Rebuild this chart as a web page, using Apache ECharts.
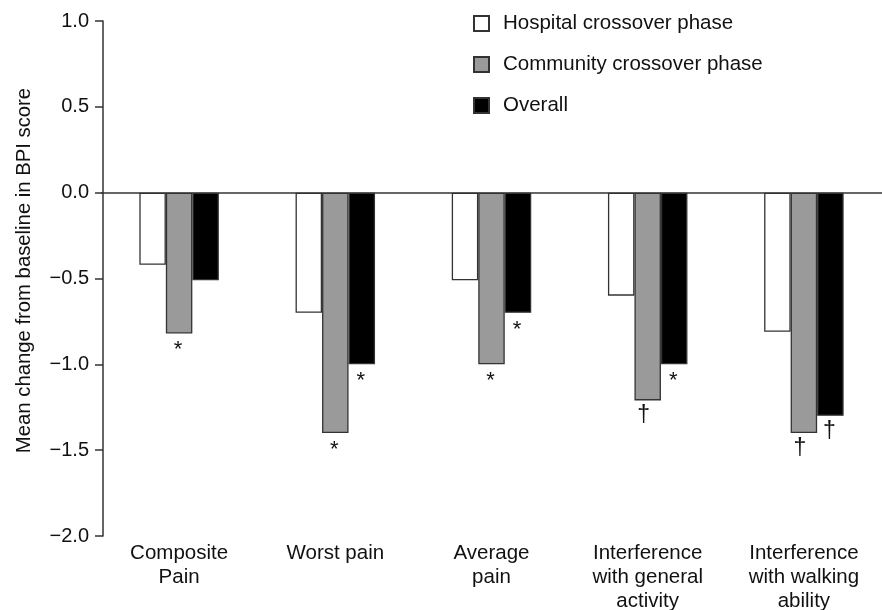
<!DOCTYPE html>
<html>
<head>
<meta charset="utf-8">
<script src="https://cdn.jsdelivr.net/npm/echarts@6/dist/echarts.min.js"></script>
<style>
  html, body { margin: 0; padding: 0; background: #fff; }
  #chart { width: 882px; height: 610px; }
</style>
</head>
<body>
<div id="chart"></div>
<script>
// ---- data ----
const categories = [
  'Composite\nPain',
  'Worst pain',
  'Average\npain',
  'Interference\nwith general\nactivity',
  'Interference\nwith walking\nability'
];
const seriesNames = ['Hospital crossover phase', 'Community crossover phase', 'Overall'];
const hospitalValues  = [-0.42, -0.70, -0.51, -0.60, -0.81];
const communityValues = [-0.82, -1.40, -1.00, -1.21, -1.40];
const overallValues   = [-0.51, -1.00, -0.70, -1.00, -1.30];
const hospitalMarks   = ['', '', '', '', ''];
const communityMarks  = ['*', '*', '*', '\u2020', '\u2020'];
const overallMarks    = ['', '*', '*', '*', '\u2020'];
const yMin = -2.0, yMax = 1.0, yStep = 0.5;

// ---- styles ----
const FONT = '"Liberation Sans", Arial, Helvetica, sans-serif';
const INK = '#111';
const AXIS = '#333';
const fills = ['#ffffff', '#9a9a9a', '#000000'];

function buildData(values, marks, dagOff, starOff) {
  return values.map((v, i) => {
    const m = marks[i];
    const isDag = m === '\u2020';
    return {
      value: v,
      label: {
        show: m !== '',
        formatter: m,
        fontSize: isDag ? 23 : 22,
        distance: isDag ? 4 : 6,
        offset: isDag ? dagOff : starOff
      }
    };
  });
}

function barSeries(name, values, marks, color, dagOff, starOff) {
  return {
    name: name,
    type: 'bar',
    barWidth: 26.5,
    barGap: '0%',
    data: buildData(values, marks, dagOff, starOff),
    itemStyle: { color: color, borderColor: AXIS, borderWidth: 1.3 },
    label: {
      position: 'outside',
      distance: 6,
      color: INK,
      fontFamily: FONT,
      fontSize: 20
    },
    emphasis: { disabled: true },
    animation: false
  };
}

const series = [
  barSeries(seriesNames[0], hospitalValues, hospitalMarks, fills[0], [-3, 0], [-1, 0]),
  barSeries(seriesNames[1], communityValues, communityMarks, fills[1], [-4, 0], [-1, 0]),
  barSeries(seriesNames[2], overallValues, overallMarks, fills[2], [-1, 0], [-1, 0])
];
series[0].markLine = {
  silent: true,
  symbol: 'none',
  label: { show: false },
  lineStyle: { color: AXIS, width: 1.5, type: 'solid' },
  data: [{ yAxis: 0 }],
  animation: false
};

const chart = echarts.init(document.getElementById('chart'), null, { renderer: 'canvas' });
chart.setOption({
  backgroundColor: '#ffffff',
  animation: false,
  textStyle: { fontFamily: FONT, color: INK },
  grid: { left: 101, right: 0, top: 21, bottom: 74, containLabel: false, outerBoundsMode: 'none' },
  legend: {
    orient: 'vertical',
    left: 468,
    top: 8,
    itemWidth: 15,
    itemHeight: 15,
    itemGap: 20,
    icon: 'rect',
    selectedMode: false,
    data: seriesNames,
    textStyle: { fontFamily: FONT, fontSize: 20.5, color: INK, lineHeight: 21, padding: [0, 0, 0, 9] }
  },
  xAxis: {
    type: 'category',
    data: categories,
    position: 'bottom',
    axisLine: { show: false, onZero: false },
    axisTick: { show: false },
    axisLabel: {
      interval: 0,
      margin: 5,
      fontFamily: FONT,
      fontSize: 20.5,
      lineHeight: 24,
      color: INK,
      align: 'center'
    },
    splitLine: { show: false }
  },
  yAxis: {
    type: 'value',
    min: yMin,
    max: yMax,
    interval: yStep,
    offset: -2,
    name: 'Mean change from baseline in BPI score',
    nameLocation: 'middle',
    nameGap: 69,
    nameTextStyle: { fontFamily: FONT, fontSize: 20.3, color: INK, padding: [0, 0, 0, 16] },
    axisLine: { show: true, lineStyle: { color: AXIS, width: 1.5 } },
    axisTick: { show: true, length: 8, lineStyle: { color: AXIS, width: 1.5 } },
    axisLabel: {
      margin: 14,
      fontFamily: FONT,
      fontSize: 20,
      color: INK,
      formatter: v => (v < 0 ? '\u2212' : '') + Math.abs(v).toFixed(1)
    },
    splitLine: { show: false }
  },
  series: series
});
</script>
</body>
</html>
